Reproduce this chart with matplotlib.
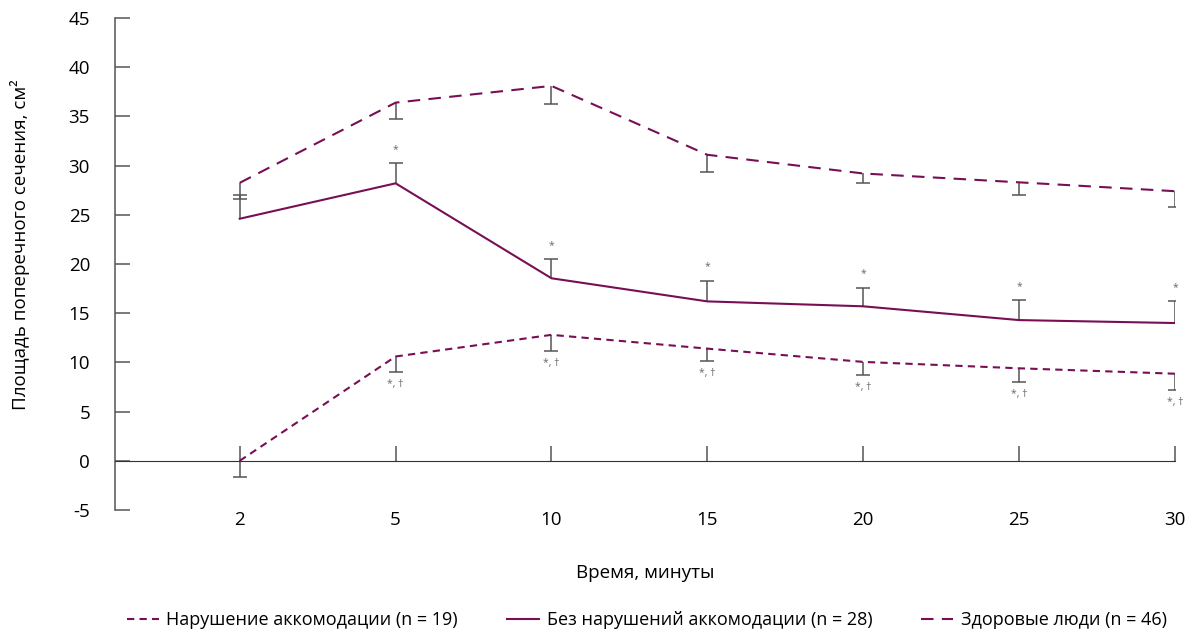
import matplotlib

matplotlib.use("Agg")
import matplotlib.pyplot as plt
import numpy as np
from matplotlib.lines import Line2D

plt.rcParams["font.family"] = ["Open Sans", "DejaVu Sans"]
plt.rcParams["axes.unicode_minus"] = False

minutes = ["2", "5", "10", "15", "20", "25", "30"]

impaired = [0.0, 10.6, 12.8, 11.4, 10.05, 9.4, 8.85]
impaired_err = [1.6, 1.6, 1.65, 1.3, 1.35, 1.4, 1.65]

no_impair = [24.6, 28.2, 18.55, 16.2, 15.7, 14.3, 14.0]
no_impair_err = [2.4, 2.05, 1.95, 2.1, 1.9, 2.0, 2.2]

healthy = [28.25, 36.4, 38.1, 31.1, 29.2, 28.3, 27.4]
healthy_err = [1.65, 1.7, 1.8, 1.7, 1.0, 1.3, 1.6]

labels = [
    "Нарушение аккомодации (n = 19)",
    "Без нарушений аккомодации (n = 28)",
    "Здоровые люди (n = 46)",
]

LINE = "#780f55"
BAR = "#555555"

x = np.arange(len(minutes))

fig = plt.figure(figsize=(12.02, 6.39), dpi=100)
ax = fig.add_axes([0.0957, 0.2019, 0.8818, 0.7699])


def err_bars(vals, errs, sign):
    # one-sided bars: only the side away from the other curves is drawn
    vals = np.asarray(vals)
    ends = vals + sign * np.asarray(errs)
    ax.vlines(x, vals, ends, color=BAR, linewidth=1.1, zorder=2)
    ax.plot(x, ends, linestyle="none", marker="_", markersize=10.5,
            markeredgewidth=1.1, color=BAR, zorder=2)
    return ends


imp_ends = err_bars(impaired, impaired_err, -1)
no_ends = err_bars(no_impair, no_impair_err, 1)
err_bars(healthy, healthy_err, -1)

ax.plot(x, impaired, color=LINE, linewidth=1.5, dashes=(3.5, 2.5), zorder=3)
ax.plot(x, no_impair, color=LINE, linewidth=1.5, zorder=3)
ax.plot(x, healthy, color=LINE, linewidth=1.5, dashes=(6, 4), zorder=3)

for i in range(1, len(minutes)):
    ax.annotate("*", (x[i], no_ends[i]), xytext=(0, 6), textcoords="offset points",
                ha="center", va="bottom", fontsize=7.5, color="#666666")
    ax.annotate("*, †", (x[i], imp_ends[i]), xytext=(0, -5), textcoords="offset points",
                ha="center", va="top", fontsize=7.5, color="#666666")

ax.set_xlim(-0.8, 6)
ax.set_ylim(-5, 45)
ax.set_yticks(np.arange(-5, 46, 5))
ax.set_xticks(x, labels=minutes)

for side in ("top", "right"):
    ax.spines[side].set_visible(False)
ax.spines["bottom"].set_position(("data", 0))
ax.spines["bottom"].set_color("#333333")
ax.spines["left"].set_color(BAR)
ax.spines["left"].set_linewidth(1.1)

ax.tick_params(axis="y", direction="in", length=11, width=1.1, color=BAR,
               labelsize=13.5, pad=18)
ax.tick_params(axis="x", direction="in", length=11, width=1.1, color=BAR,
               labelsize=13.5, pad=36)

ax.set_xlabel("Время, минуты", fontsize=13.5)
ax.xaxis.set_label_coords(0.5, -0.11)
ax.set_ylabel("Площадь поперечного сечения, см²", fontsize=13.5)
ax.yaxis.set_label_coords(-0.080, 0.54)

handles = [
    Line2D([], [], color=LINE, linewidth=1.5, dashes=(3.5, 2.5)),
    Line2D([], [], color=LINE, linewidth=1.5),
    Line2D([], [], color=LINE, linewidth=1.5, dashes=(6, 4)),
]
fig.legend(handles, labels, loc="center", bbox_to_anchor=(0.538, 0.03), ncol=3,
           frameon=False, fontsize=13, handlelength=1.8, columnspacing=2.7,
           handletextpad=0.4)

fig.savefig("out.png", dpi=100)
plt.close(fig)
